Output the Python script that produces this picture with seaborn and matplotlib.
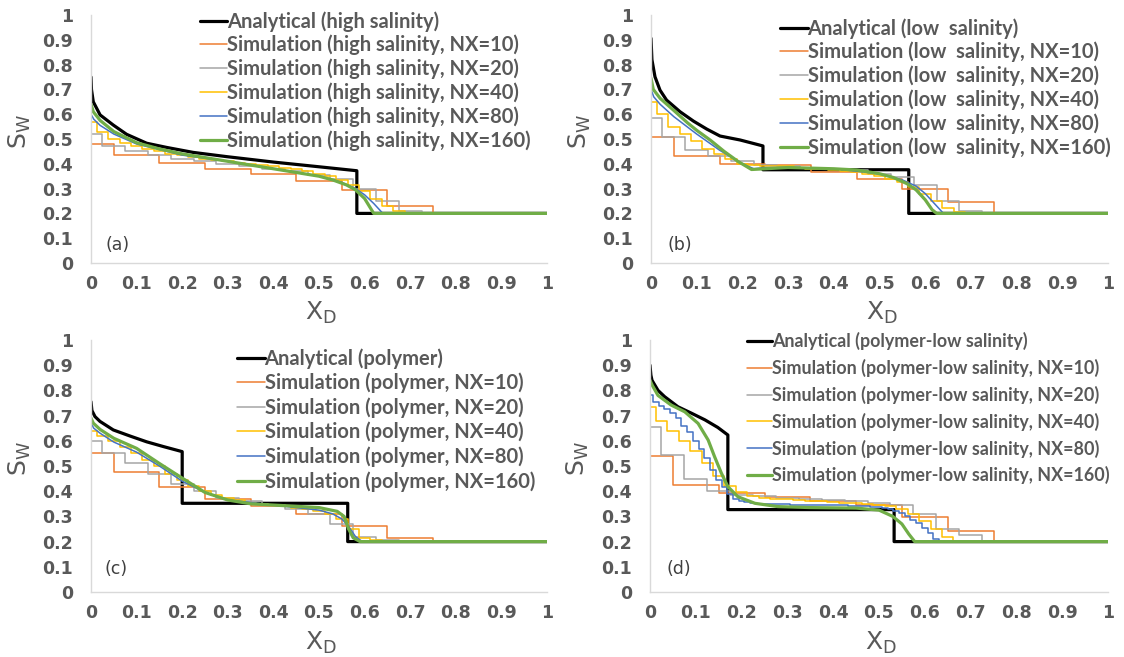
import numpy as np
import pandas as pd
import matplotlib
matplotlib.use("Agg")
import matplotlib.pyplot as plt
import seaborn as sns

# ---------------- data ----------------
# (a) high salinity
a_anal_x = [0, 0.001, 0.005, 0.02, 0.049, 0.078, 0.122, 0.166, 0.224, 0.297, 0.4, 0.5, 0.583, 0.583, 1]
a_anal_y = [0.75, 0.70, 0.65, 0.597, 0.556, 0.519, 0.483, 0.466, 0.446, 0.429, 0.407, 0.388, 0.372, 0.2, 0.2]
a_nx10 = [0.48, 0.435, 0.405, 0.38, 0.36, 0.332, 0.294, 0.23, 0.2, 0.2]
a_nx20 = [0.52, 0.47, 0.45, 0.435, 0.42, 0.41, 0.40, 0.39, 0.38, 0.37, 0.355, 0.34, 0.30, 0.25, 0.21,
          0.2, 0.2, 0.2, 0.2, 0.2]
a_nx40 = [0.57, 0.53, 0.50, 0.485, 0.47, 0.46, 0.45, 0.44, 0.435, 0.428, 0.42, 0.415, 0.41, 0.405,
          0.40, 0.395, 0.39, 0.385, 0.378, 0.37, 0.36, 0.35, 0.335, 0.315, 0.29, 0.26, 0.23, 0.21,
          0.2, 0.2, 0.2, 0.2, 0.2, 0.2, 0.2, 0.2, 0.2, 0.2, 0.2, 0.2]
a_nx80_x = [0, 0.006, 0.02, 0.05, 0.1, 0.2, 0.3, 0.4, 0.5, 0.55, 0.58, 0.6, 0.62, 0.635, 0.64, 1]
a_nx80_y = [0.60, 0.58, 0.555, 0.52, 0.48, 0.435, 0.41, 0.38, 0.35, 0.325, 0.30, 0.275, 0.24, 0.21, 0.2, 0.2]
a_nx160_x = [0, 0.005, 0.02, 0.05, 0.1, 0.15, 0.2, 0.25, 0.3, 0.35, 0.4, 0.45, 0.5, 0.53, 0.56, 0.58,
             0.6, 0.61, 0.62, 1]
a_nx160_y = [0.64, 0.61, 0.575, 0.53, 0.485, 0.46, 0.44, 0.425, 0.41, 0.395, 0.38, 0.365, 0.35, 0.335,
             0.315, 0.295, 0.26, 0.23, 0.2, 0.2]

# (b) low salinity
b_anal_x = [0, 0.002, 0.0087, 0.0197, 0.034, 0.0635, 0.093, 0.122, 0.151, 0.195, 0.245, 0.245, 0.564, 0.564, 1]
b_anal_y = [0.906, 0.82, 0.751, 0.697, 0.657, 0.61, 0.572, 0.54, 0.512, 0.496, 0.472, 0.376, 0.376, 0.2, 0.2]
b_nx10 = [0.51, 0.43, 0.40, 0.395, 0.365, 0.338, 0.30, 0.245, 0.2, 0.2]
b_nx20 = [0.585, 0.51, 0.455, 0.43, 0.41, 0.395, 0.39, 0.385, 0.38, 0.375, 0.36, 0.345, 0.315, 0.25,
          0.21, 0.2, 0.2, 0.2, 0.2, 0.2]
b_nx40 = [0.65, 0.60, 0.55, 0.52, 0.49, 0.46, 0.44, 0.42, 0.40, 0.395, 0.39, 0.39, 0.39, 0.385, 0.38,
          0.38, 0.375, 0.37, 0.365, 0.36, 0.35, 0.34, 0.325, 0.305, 0.28, 0.25, 0.22, 0.205,
          0.2, 0.2, 0.2, 0.2, 0.2, 0.2, 0.2, 0.2, 0.2, 0.2, 0.2, 0.2]
b_nx80_x = [0, 0.006, 0.02, 0.05, 0.1, 0.15, 0.2, 0.225, 0.25, 0.3, 0.4, 0.5, 0.55, 0.58, 0.6, 0.62,
            0.635, 0.64, 1]
b_nx80_y = [0.70, 0.67, 0.64, 0.59, 0.52, 0.455, 0.40, 0.38, 0.385, 0.385, 0.38, 0.36, 0.335, 0.31,
            0.28, 0.24, 0.21, 0.2, 0.2]
b_nx160_x = [0, 0.005, 0.02, 0.05, 0.08, 0.1, 0.13, 0.16, 0.19, 0.22, 0.25, 0.3, 0.4, 0.45, 0.5, 0.53,
             0.56, 0.58, 0.6, 0.615, 0.625, 1]
b_nx160_y = [0.745, 0.70, 0.664, 0.615, 0.565, 0.535, 0.495, 0.45, 0.41, 0.377, 0.38, 0.385, 0.38,
             0.375, 0.36, 0.345, 0.32, 0.295, 0.255, 0.215, 0.2, 0.2]

# (c) polymer
c_anal_x = [0, 0.002, 0.0088, 0.0197, 0.049, 0.0855, 0.122, 0.159, 0.2, 0.2, 0.563, 0.563, 1]
c_anal_y = [0.755, 0.72, 0.696, 0.677, 0.643, 0.619, 0.596, 0.577, 0.557, 0.352, 0.352, 0.2, 0.2]
c_nx10 = [0.55, 0.477, 0.418, 0.37, 0.342, 0.31, 0.26, 0.213, 0.2, 0.2]
c_nx20 = [0.60, 0.55, 0.51, 0.47, 0.43, 0.40, 0.375, 0.36, 0.345, 0.33, 0.31, 0.27, 0.22, 0.205,
          0.2, 0.2, 0.2, 0.2, 0.2, 0.2]
c_nx40 = [0.64, 0.62, 0.60, 0.575, 0.55, 0.525, 0.50, 0.47, 0.445, 0.42, 0.40, 0.385, 0.375, 0.365,
          0.355, 0.35, 0.345, 0.34, 0.335, 0.33, 0.32, 0.31, 0.29, 0.25, 0.215, 0.205,
          0.2, 0.2, 0.2, 0.2, 0.2, 0.2, 0.2, 0.2, 0.2, 0.2, 0.2, 0.2, 0.2, 0.2]
c_nx80_x = [0, 0.006, 0.02, 0.05, 0.1, 0.15, 0.2, 0.25, 0.3, 0.4, 0.5, 0.53, 0.55, 0.565, 0.58, 0.595, 1]
c_nx80_y = [0.67, 0.65, 0.63, 0.595, 0.555, 0.50, 0.44, 0.395, 0.365, 0.345, 0.325, 0.31, 0.29, 0.26,
            0.22, 0.2, 0.2]
c_nx160_x = [0, 0.005, 0.02, 0.05, 0.1, 0.15, 0.2, 0.25, 0.3, 0.35, 0.4, 0.45, 0.5, 0.54, 0.555, 0.565,
             0.575, 0.59, 1]
c_nx160_y = [0.69, 0.67, 0.645, 0.61, 0.57, 0.51, 0.452, 0.395, 0.365, 0.35, 0.345, 0.34, 0.335, 0.32,
             0.30, 0.25, 0.215, 0.2, 0.2]

# (d) polymer-low salinity
d_anal_x = [0, 0.002, 0.0044, 0.0175, 0.032, 0.061, 0.09, 0.12, 0.148, 0.17, 0.17, 0.533, 0.533, 1]
d_anal_y = [0.90, 0.86, 0.84, 0.80, 0.775, 0.735, 0.71, 0.683, 0.653, 0.623, 0.327, 0.327, 0.2, 0.2]
d_nx10 = [0.54, 0.425, 0.393, 0.376, 0.36, 0.345, 0.297, 0.241, 0.2, 0.2]
d_nx20 = [0.655, 0.545, 0.45, 0.40, 0.385, 0.38, 0.375, 0.37, 0.365, 0.36, 0.355, 0.345, 0.31, 0.25,
          0.225, 0.2, 0.2, 0.2, 0.2, 0.2]
d_nx40 = [0.735, 0.68, 0.64, 0.60, 0.56, 0.51, 0.46, 0.42, 0.395, 0.38, 0.375, 0.37, 0.368, 0.365,
          0.363, 0.36, 0.358, 0.355, 0.352, 0.35, 0.345, 0.34, 0.33, 0.31, 0.28, 0.25, 0.22, 0.2,
          0.2, 0.2, 0.2, 0.2, 0.2, 0.2, 0.2, 0.2, 0.2, 0.2, 0.2, 0.2]
d_nx80 = [0.78, 0.755, 0.74, 0.725, 0.71, 0.69, 0.66, 0.633, 0.60, 0.568, 0.53, 0.483, 0.445, 0.415,
          0.39, 0.37, 0.362, 0.356, 0.352, 0.35, 0.349, 0.349, 0.348, 0.348, 0.348, 0.347, 0.347,
          0.347, 0.346, 0.346, 0.346, 0.345, 0.345, 0.344, 0.344, 0.343, 0.342, 0.341, 0.34, 0.339,
          0.337, 0.333, 0.328, 0.321, 0.312, 0.30, 0.286, 0.272, 0.255, 0.235, 0.212, 0.2,
          0.2, 0.2, 0.2, 0.2, 0.2, 0.2, 0.2, 0.2, 0.2, 0.2, 0.2, 0.2, 0.2, 0.2, 0.2, 0.2, 0.2, 0.2,
          0.2, 0.2, 0.2, 0.2, 0.2, 0.2, 0.2, 0.2, 0.2, 0.2]
d_nx160_x = [0, 0.005, 0.0175, 0.046, 0.076, 0.105, 0.127, 0.141, 0.156, 0.17, 0.192, 0.229, 0.279,
             0.35, 0.45, 0.5, 0.53, 0.55, 0.565, 0.578, 1]
d_nx160_y = [0.84, 0.82, 0.78, 0.742, 0.715, 0.669, 0.603, 0.537, 0.471, 0.418, 0.378, 0.352, 0.339,
             0.335, 0.333, 0.325, 0.30, 0.27, 0.23, 0.2, 0.2]

case_names = ["high salinity", "low  salinity", "polymer", "polymer-low salinity"]
panel_tags = ["(a)", "(b)", "(c)", "(d)"]

# ---------------- style ----------------
sns.set_style("white")
plt.rcParams["font.family"] = ["DejaVu Sans"]

colors = {"anal": "black", 10: "#ED7D31", 20: "#A5A5A5", 40: "#FFC000", 80: "#4472C4", 160: "#70AD47"}
widths = {"anal": 2.3, 10: 1.1, 20: 1.1, 40: 1.1, 80: 1.1, 160: 2.3}
TXT = "#595959"

fig = plt.figure(figsize=(11.24, 6.57), dpi=100)

# axes rectangles in figure fractions
rects = [
    [91 / 1124, 1 - 263 / 657, 456 / 1124, 248 / 657],
    [651 / 1124, 1 - 263 / 657, 457 / 1124, 248 / 657],
    [91 / 1124, 1 - 592 / 657, 456 / 1124, 252 / 657],
    [650 / 1124, 1 - 592 / 657, 458 / 1124, 252 / 657],
]
legend_pos = [(0.238, 1.016), (0.283, 0.988), (0.321, 0.968), (0.211, 1.032)]
legend_size = [14.5, 14.5, 14.5, 12.9]
legend_space = [0.16, 0.16, 0.2, 0.49]
legend_hlen = [1.35, 1.35, 1.35, 1.4]
tag_pos = [(0.059, 0.074), (0.063, 0.074), (0.055, 0.092), (0.063, 0.09)]


def step_xy(vals):
    n = len(vals)
    x = [0.0] + [(k + 0.5) / n for k in range(n)] + [1.0]
    y = list(vals) + [vals[-1], vals[-1]]
    return x, y


panels = [
    (a_anal_x, a_anal_y, a_nx10, a_nx20, a_nx40, (a_nx80_x, a_nx80_y), (a_nx160_x, a_nx160_y)),
    (b_anal_x, b_anal_y, b_nx10, b_nx20, b_nx40, (b_nx80_x, b_nx80_y), (b_nx160_x, b_nx160_y)),
    (c_anal_x, c_anal_y, c_nx10, c_nx20, c_nx40, (c_nx80_x, c_nx80_y), (c_nx160_x, c_nx160_y)),
    (d_anal_x, d_anal_y, d_nx10, d_nx20, d_nx40, d_nx80, (d_nx160_x, d_nx160_y)),
]

for i, p in enumerate(panels):
    ax = fig.add_axes(rects[i])
    anal_x, anal_y, s10, s20, s40, s80, s160 = p
    name = case_names[i]

    sns.lineplot(x=anal_x, y=anal_y, ax=ax, color=colors["anal"], lw=widths["anal"],
                 estimator=None, sort=False, label=f"Analytical ({name})")
    for nx, ser in zip([10, 20, 40, 80, 160], [s10, s20, s40, s80, s160]):
        lab = f"Simulation ({name}, NX={nx})"
        if isinstance(ser, tuple):
            # smooth-looking curve given as (x, y) knots
            sns.lineplot(x=ser[0], y=ser[1], ax=ax, color=colors[nx], lw=widths[nx],
                         estimator=None, sort=False, label=lab)
        else:
            # one value per grid block -> staircase
            sx, sy = step_xy(ser)
            sns.lineplot(x=sx, y=sy, ax=ax, color=colors[nx], lw=widths[nx], drawstyle="steps-post",
                         estimator=None, sort=False, label=lab)

    ax.set_xlim(0, 1)
    ax.set_ylim(0, 1)
    ax.set_xticks(np.arange(0, 1.01, 0.1))
    ax.set_yticks(np.arange(0, 1.01, 0.1))
    ax.set_xticklabels(["0"] + [f"{v:.1f}" for v in np.arange(0.1, 0.95, 0.1)] + ["1"])
    ax.set_yticklabels(["0"] + [f"{v:.1f}" for v in np.arange(0.1, 0.95, 0.1)] + ["1"])
    ax.tick_params(axis="both", length=0, labelsize=12.5, labelcolor=TXT)
    ax.tick_params(axis="y", pad=13)
    ax.tick_params(axis="x", pad=9)
    for lab in ax.get_xticklabels() + ax.get_yticklabels():
        lab.set_fontweight("bold")
    for s in ["top", "right"]:
        ax.spines[s].set_visible(False)
    for s in ["left", "bottom"]:
        ax.spines[s].set_color("#D9D9D9")
        ax.spines[s].set_linewidth(1.0)

    ax.set_ylabel(r"$\mathregular{S_W}$", fontsize=18, color=TXT)
    ax.yaxis.set_label_coords(-0.128, 0.53)
    ax.set_xlabel(r"$\mathregular{X_D}$", fontsize=18, color=TXT)
    ax.xaxis.set_label_coords(0.505, -0.15)

    ax.text(tag_pos[i][0], tag_pos[i][1], panel_tags[i], transform=ax.transAxes,
            fontsize=12.5, color="#404040", ha="center", va="center")

    leg = ax.legend(loc="upper left", bbox_to_anchor=legend_pos[i], frameon=False,
                    prop={"family": "Lato", "weight": "bold", "size": legend_size[i]},
                    handlelength=legend_hlen[i], handletextpad=0.0, labelspacing=legend_space[i],
                    borderaxespad=0, borderpad=0)
    for t in leg.get_texts():
        t.set_color(TXT)

fig.savefig("out.png", dpi=100)
